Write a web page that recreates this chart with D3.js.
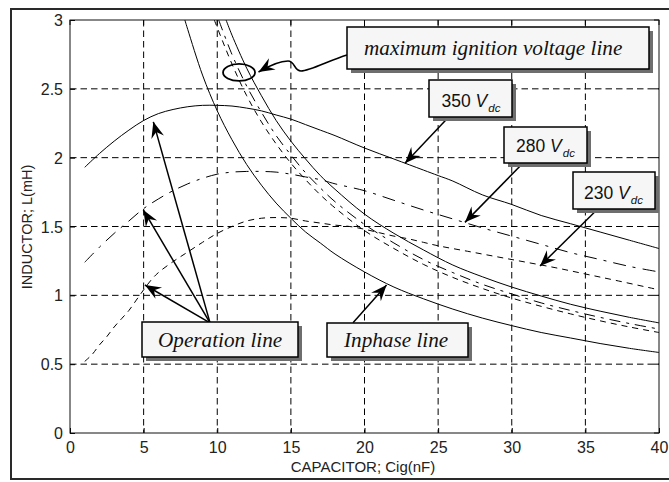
<!DOCTYPE html>
<html>
<head>
<meta charset="utf-8">
<script src="https://cdn.jsdelivr.net/npm/d3@7"></script>
<style>
  html, body { margin: 0; padding: 0; background: #fff; }
  svg { display: block; }
</style>
</head>
<body>
<svg id="chart" width="669" height="482"></svg>
<script>
// Axis ticks: ignition capacitance (nF) and resonant inductance (mH)
const capTicks = [0, 5, 10, 15, 20, 25, 30, 35, 40];
const indTicks = [0, 0.5, 1, 1.5, 2, 2.5, 3];

// Operation lines, one per DC bus voltage
const opCap350 = [1, 2, 3, 4, 5, 6, 7, 8, 9, 10, 11, 12, 13, 14, 15, 16, 17, 18, 20, 22, 24, 25, 26, 28, 30, 32, 34, 36, 38, 40];
const opInd350 = [1.93, 2.03, 2.12, 2.20, 2.27, 2.32, 2.35, 2.37, 2.38, 2.38, 2.375, 2.36, 2.34, 2.31, 2.28, 2.24, 2.20, 2.16, 2.07, 1.99, 1.91, 1.87, 1.83, 1.73, 1.66, 1.58, 1.52, 1.46, 1.40, 1.34];

const opCap280 = [1, 2, 3, 4, 5, 6, 7, 8, 9, 10, 11, 12, 13, 14, 15, 16, 17, 18, 20, 22, 24, 26, 28, 30, 32, 34, 36, 38, 40];
const opInd280 = [1.24, 1.35, 1.45, 1.54, 1.63, 1.70, 1.76, 1.81, 1.85, 1.88, 1.895, 1.90, 1.90, 1.895, 1.88, 1.86, 1.84, 1.81, 1.76, 1.69, 1.62, 1.555, 1.49, 1.43, 1.37, 1.31, 1.26, 1.21, 1.17];

const opCap230 = [1, 1.5, 2, 2.5, 3, 3.5, 4, 4.5, 5, 5.5, 6, 7, 8, 9, 10, 11, 12, 13, 14, 15, 16, 17, 18, 19, 20, 21, 22, 23, 24, 25, 27, 29, 31, 33, 35, 37, 40];
const opInd230 = [0.52, 0.57, 0.64, 0.70, 0.77, 0.83, 0.89, 0.965, 1.04, 1.11, 1.165, 1.245, 1.315, 1.385, 1.45, 1.50, 1.54, 1.56, 1.565, 1.56, 1.54, 1.525, 1.51, 1.50, 1.48, 1.455, 1.43, 1.41, 1.385, 1.36, 1.32, 1.28, 1.24, 1.20, 1.155, 1.11, 1.04];

// Maximum ignition voltage lines, one per DC bus voltage
const ignCap350 = [10.6, 11, 12, 13, 14, 15, 16, 17, 18, 20, 22, 24, 26, 28, 30, 32, 34, 36, 38, 40];
const ignInd350 = [3.00, 2.89, 2.65, 2.45, 2.27, 2.12, 1.99, 1.87, 1.77, 1.59, 1.45, 1.33, 1.22, 1.135, 1.06, 0.995, 0.935, 0.885, 0.84, 0.80];

const ignCap280 = [10.1, 11, 12, 13, 14, 15, 16, 17, 18, 20, 22, 24, 26, 28, 30, 32, 34, 36, 38, 40];
const ignInd280 = [3.00, 2.75, 2.52, 2.33, 2.16, 2.02, 1.89, 1.78, 1.68, 1.515, 1.38, 1.26, 1.165, 1.08, 1.01, 0.945, 0.89, 0.84, 0.795, 0.755];

const ignCap230 = [9.8, 11, 12, 13, 14, 15, 16, 17, 18, 20, 22, 24, 26, 28, 30, 32, 34, 36, 38, 40];
const ignInd230 = [3.00, 2.68, 2.45, 2.26, 2.10, 1.96, 1.84, 1.73, 1.635, 1.47, 1.34, 1.225, 1.13, 1.05, 0.98, 0.92, 0.865, 0.815, 0.77, 0.73];

// In-phase (resonance) line
const inCap = [7.8, 8, 9, 10, 11, 12, 13, 14, 15, 16, 17, 18, 20, 22, 24, 26, 28, 30, 32, 34, 36, 38, 40];
const inInd = [3.00, 2.93, 2.60, 2.34, 2.13, 1.95, 1.80, 1.67, 1.56, 1.46, 1.38, 1.30, 1.17, 1.06, 0.975, 0.90, 0.835, 0.78, 0.73, 0.69, 0.65, 0.615, 0.585];

// ---- layout ----
const plot = { left: 70, right: 659, top: 20, bottom: 433 };

const svg = d3.select("#chart");
const x = d3.scaleLinear().domain([0, 40]).range([plot.left, plot.right]);
const y = d3.scaleLinear().domain([0, 3]).range([plot.bottom, plot.top]);

const sans = "'Liberation Sans', Arial, Helvetica, sans-serif";
const serif = "'Liberation Serif', 'Times New Roman', Times, serif";

// outer figure frame
svg.append("rect")
  .attr("x", 11).attr("y", 9).attr("width", 680).attr("height", 470)
  .attr("fill", "#fff").attr("stroke", "#2a2a2a").attr("stroke-width", 2);

const defs = svg.append("defs");
defs.append("clipPath").attr("id", "plotClip")
  .append("rect")
  .attr("x", plot.left).attr("y", plot.top)
  .attr("width", plot.right - plot.left).attr("height", plot.bottom - plot.top);

defs.append("marker")
  .attr("id", "head")
  .attr("viewBox", "-17 -8 18 16")
  .attr("refX", 0).attr("refY", 0)
  .attr("markerWidth", 18).attr("markerHeight", 16)
  .attr("markerUnits", "userSpaceOnUse")
  .attr("orient", "auto")
  .append("path")
  .attr("d", "M0,0 L-16,-6.5 L-10.5,0 L-16,6.5 Z")
  .attr("fill", "#000");

// plot background
svg.append("rect")
  .attr("x", plot.left).attr("y", plot.top)
  .attr("width", plot.right - plot.left).attr("height", plot.bottom - plot.top)
  .attr("fill", "#fff");

// grid
const gridDash = "6.5,4";
svg.append("g").selectAll("line")
  .data(capTicks.filter(d => d > 0 && d < 40))
  .join("line")
  .attr("x1", d => x(d)).attr("x2", d => x(d))
  .attr("y1", plot.top).attr("y2", plot.bottom)
  .attr("stroke", "#000").attr("stroke-width", 1).attr("stroke-dasharray", gridDash);
svg.append("g").selectAll("line")
  .data(indTicks.filter(d => d > 0 && d < 3))
  .join("line")
  .attr("x1", plot.left).attr("x2", plot.right)
  .attr("y1", d => y(d)).attr("y2", d => y(d))
  .attr("stroke", "#000").attr("stroke-width", 1).attr("stroke-dasharray", gridDash);

// axes with inward ticks
const xAxis = d3.axisBottom(x).tickValues(capTicks).tickSize(-5).tickPadding(9).tickFormat(d3.format("d"));
const yAxis = d3.axisLeft(y).tickValues(indTicks).tickSize(-5).tickPadding(7).tickFormat(d => String(d));

const gx = svg.append("g").attr("transform", `translate(0,${plot.bottom})`).call(xAxis);
const gy = svg.append("g").attr("transform", `translate(${plot.left},0)`).call(yAxis);
[gx, gy].forEach(g => {
  g.select(".domain").remove();
  g.selectAll(".tick line").attr("stroke", "#000");
  g.selectAll(".tick text")
    .attr("font-family", sans).attr("font-size", 16).attr("fill", "#222");
});
gx.selectAll(".tick text").attr("dy", "0.66em");
gy.selectAll(".tick text").attr("dy", "0.35em");

// top and right ticks
svg.append("g").selectAll("line")
  .data(capTicks).join("line")
  .attr("x1", d => x(d)).attr("x2", d => x(d))
  .attr("y1", plot.top).attr("y2", plot.top + 5)
  .attr("stroke", "#000");
svg.append("g").selectAll("line")
  .data(indTicks).join("line")
  .attr("x1", plot.right).attr("x2", plot.right - 5)
  .attr("y1", d => y(d)).attr("y2", d => y(d))
  .attr("stroke", "#000");

// axes box
svg.append("rect")
  .attr("x", plot.left).attr("y", plot.top)
  .attr("width", plot.right - plot.left).attr("height", plot.bottom - plot.top)
  .attr("fill", "none").attr("stroke", "#111").attr("stroke-width", 1);

// axis titles
svg.append("text")
  .attr("x", 363).attr("y", 472)
  .attr("text-anchor", "middle")
  .attr("font-family", sans).attr("font-size", 15).attr("fill", "#222")
  .text("CAPACITOR; Cig(nF)");
svg.append("text")
  .attr("transform", "translate(31.5,227) rotate(-90)")
  .attr("text-anchor", "middle")
  .attr("font-family", sans).attr("font-size", 14.5).attr("fill", "#222")
  .text("INDUCTOR; L(mH)");

// curves
const line = d3.line()
  .x(d => x(d[0])).y(d => y(d[1]))
  .curve(d3.curveCatmullRom.alpha(0.5));
const zip = (a, b) => a.map((v, i) => [v, b[i]]);

const series = [
  { pts: zip(opCap350, opInd350), dash: null },
  { pts: zip(opCap280, opInd280), dash: "13,7,3,7" },
  { pts: zip(opCap230, opInd230), dash: "6,5" },
  { pts: zip(ignCap350, ignInd350), dash: null },
  { pts: zip(ignCap280, ignInd280), dash: "11,6,3,6" },
  { pts: zip(ignCap230, ignInd230), dash: "6,5" },
  { pts: zip(inCap, inInd), dash: null }
];

const curves = svg.append("g").attr("clip-path", "url(#plotClip)");
curves.selectAll("path")
  .data(series)
  .join("path")
  .attr("d", d => line(d.pts))
  .attr("fill", "none")
  .attr("stroke", "#000")
  .attr("stroke-width", 1)
  .attr("stroke-dasharray", d => d.dash);

// ---- annotations ----
// arrows: start and tip in data units
const arrows = [
  { from: [9.51, 0.80], to: [5.66, 2.26] },
  { from: [9.51, 0.80], to: [4.98, 1.62] },
  { from: [9.51, 0.80], to: [5.09, 1.075] },
  { from: [19.22, 0.80], to: [21.5, 1.075] },
  { from: [25.67, 2.29], to: [22.75, 1.96] },
  { from: [30.67, 1.95], to: [26.82, 1.53] },
  { from: [35.77, 1.62], to: [31.92, 1.213] }
];
svg.append("g").selectAll("line")
  .data(arrows).join("line")
  .attr("x1", d => x(d.from[0])).attr("y1", d => y(d.from[1]))
  .attr("x2", d => x(d.to[0])).attr("y2", d => y(d.to[1]))
  .attr("stroke", "#000").attr("stroke-width", 1.5)
  .attr("marker-end", "url(#head)");

// ellipse marking the ignition-voltage lines
svg.append("ellipse")
  .attr("cx", x(11.48)).attr("cy", y(2.619))
  .attr("rx", 16).attr("ry", 8.5)
  .attr("fill", "none").attr("stroke", "#000").attr("stroke-width", 1.8);

// wavy leader from the ignition label to the ellipse
svg.append("path")
  .attr("d", "M347,55 C330,60 310,71 301,71 C294,71 295,61 288,61 C278,61 267,67 258.5,72")
  .attr("fill", "none").attr("stroke", "#000").attr("stroke-width", 1.5)
  .attr("marker-end", "url(#head)");

// labelled boxes with drop shadows
const boxes = [
  { x0: 347, y0: 27, x1: 649, y1: 69, tx: 364, ty: 55, kind: "serif", text: "maximum ignition voltage line" },
  { x0: 429, y0: 80, x1: 512, y1: 117, tx: 441.5, ty: 106.5, kind: "volt", text: "350 " },
  { x0: 504, y0: 127, x1: 587, y1: 163, tx: 516, ty: 152, kind: "volt", text: "280 " },
  { x0: 573, y0: 172, x1: 655, y1: 209, tx: 584, ty: 199, kind: "volt", text: "230 " },
  { x0: 142, y0: 322, x1: 298, y1: 357, tx: 158, ty: 346.5, kind: "serif", text: "Operation line" },
  { x0: 327, y0: 323, x1: 468, y1: 357, tx: 344, ty: 347, kind: "serif", text: "Inphase line" }
];
const gb = svg.append("g").selectAll("g").data(boxes).join("g");
gb.append("rect")
  .attr("x", d => d.x0 + 4).attr("y", d => d.y0 + 4)
  .attr("width", d => d.x1 - d.x0).attr("height", d => d.y1 - d.y0)
  .attr("fill", "#6e6e6e");
gb.append("rect")
  .attr("x", d => d.x0).attr("y", d => d.y0)
  .attr("width", d => d.x1 - d.x0).attr("height", d => d.y1 - d.y0)
  .attr("fill", "#f6f6f6").attr("stroke", "#000").attr("stroke-width", 1.5);

gb.filter(d => d.kind === "serif").append("text")
  .attr("x", d => d.tx).attr("y", d => d.ty)
  .attr("font-family", serif).attr("font-style", "italic").attr("font-size", 21.2)
  .attr("fill", "#111")
  .text(d => d.text);

const vt = gb.filter(d => d.kind === "volt").append("text")
  .attr("x", d => d.tx).attr("y", d => d.ty)
  .attr("font-family", sans).attr("font-size", 17.5).attr("fill", "#111");
vt.append("tspan").text(d => d.text);
vt.append("tspan").attr("font-style", "italic").text("V");
vt.append("tspan").attr("font-style", "italic").attr("font-size", 11.5).attr("dy", 5).attr("dx", 1).text("dc");
</script>
</body>
</html>
